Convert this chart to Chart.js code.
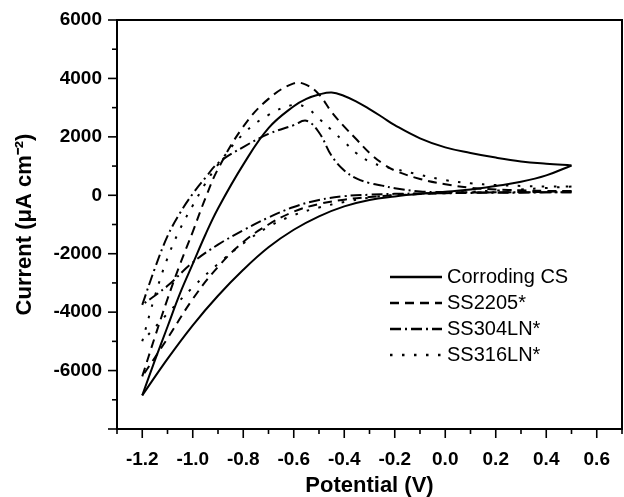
<!DOCTYPE html>
<html>
<head>
<meta charset="utf-8">
<title>Cyclic voltammetry</title>
<script src="https://cdn.jsdelivr.net/npm/chart.js"></script>
<style>
html,body{margin:0;padding:0;background:#fff}
#wrap{width:624px;height:497px;position:relative}
</style>
</head>
<body>
<div id="wrap"><canvas id="cvChart"></canvas></div>
<script>
// potential grids (V): anodic sweep then cathodic sweep
const fwdV=[-1.2,-1.15,-1.1,-1.05,-1.0,-0.95,-0.9,-0.8,-0.7,-0.6,-0.55,-0.5,-0.45,-0.4,-0.35,-0.3,-0.25,-0.2,-0.1,0,0.1,0.2,0.3,0.4,0.5];
const revV=[0.5,0.4,0.3,0.2,0.1,0,-0.1,-0.2,-0.3,-0.4,-0.5,-0.6,-0.7,-0.8,-0.9,-1.0,-1.1,-1.2];

// current density (uA cm-2)
const csFwd=[-6850,-5650,-4500,-3350,-2350,-1350,-450,1050,2300,3050,3300,3450,3520,3400,3200,2950,2680,2400,1950,1640,1450,1290,1160,1080,1020];
const csRev=[1020,680,460,320,200,120,50,-40,-160,-380,-720,-1180,-1780,-2550,-3440,-4450,-5600,-6850];
const ss2205Fwd=[-6200,-4850,-3550,-2350,-1250,-100,900,2350,3300,3830,3780,3450,2850,2350,1900,1450,1100,850,560,380,260,200,170,150,150];
const ss2205Rev=[150,120,110,100,90,70,40,0,-60,-150,-300,-560,-1000,-1600,-2450,-3550,-4900,-6200];
const ss304Fwd=[-3750,-2500,-1400,-600,50,600,1100,1650,2100,2400,2550,2150,1350,850,570,420,330,240,130,110,100,100,100,100,100];
const ss304Rev=[100,100,90,90,80,70,60,50,20,-30,-160,-400,-760,-1200,-1690,-2300,-3100,-3750];
const ss316Fwd=[-5000,-3450,-2150,-1150,-350,400,1050,2100,2750,3100,3000,2620,2230,1830,1430,1150,1000,900,700,520,410,350,320,300,300];
const ss316Rev=[300,250,200,160,120,90,60,10,-80,-230,-420,-680,-1080,-1650,-2350,-3150,-4050,-5000];

const seriesNames=['Corroding CS','SS2205*','SS304LN*','SS316LN*'];
const dashes=[[],[9,6],[11,4,2,4],[2.5,9.5]];

const pairs=(xs,ys)=>xs.map((x,i)=>({x:x,y:ys[i]}));
const branches=[[csFwd,csRev],[ss2205Fwd,ss2205Rev],[ss304Fwd,ss304Rev],[ss316Fwd,ss316Rev]];
const datasets=[];
branches.forEach((b,i)=>{
    [pairs(fwdV,b[0]),pairs(revV,b[1])].forEach(d=>{
        datasets.push({label:seriesNames[i],data:d,showLine:true,borderColor:'#000',
            borderWidth:2,borderDash:dashes[i],pointRadius:0,tension:0.4,fill:false});
    });
});

// frame, tick marks and in-plot legend
const framePlugin={
    id:'frame',
    afterDraw(chart){
        const c=chart.ctx, a=chart.chartArea;
        c.save();
        c.strokeStyle='#000';
        c.lineWidth=2;
        c.setLineDash([]);
        c.strokeRect(a.left,a.top,a.right-a.left,a.bottom-a.top);
        c.lineWidth=1.6;
        chart.scales.x.ticks.forEach(t=>{
            const px=chart.scales.x.getPixelForValue(t.value);
            const major=Math.round(t.value*10)%2===0;
            c.beginPath();c.moveTo(px,a.bottom);c.lineTo(px,a.bottom+(major?9:5));c.stroke();
        });
        chart.scales.y.ticks.forEach(t=>{
            const py=chart.scales.y.getPixelForValue(t.value);
            const major=Math.round(t.value)%2000===0;
            c.beginPath();c.moveTo(a.left,py);c.lineTo(a.left-(major?9:5),py);c.stroke();
        });
        // legend
        c.font='20px "Liberation Sans", Arial, sans-serif';
        c.fillStyle='#000';
        c.textBaseline='middle';
        seriesNames.forEach((n,i)=>{
            const y=a.top+257+i*26;
            c.lineWidth=2.5;
            c.setLineDash(dashes[i]);
            c.beginPath();c.moveTo(a.left+273,y);c.lineTo(a.left+325,y);c.stroke();
            c.setLineDash([]);
            c.fillText(n,a.left+330,y);
        });
        c.restore();
    }
};

const ctx=document.getElementById('cvChart').getContext('2d');
const tickFont={family:'"Liberation Sans", Arial, sans-serif',size:19,weight:'bold'};
const titleFont={family:'"Liberation Sans", Arial, sans-serif',size:22,weight:'bold'};
new Chart(ctx,{
    type:'scatter',
    data:{datasets:datasets},
    options:{
        responsive:true,
        maintainAspectRatio:false,
        animation:false,
        layout:{padding:{top:20,right:2,left:0,bottom:0}},
        plugins:{legend:{display:false},tooltip:{enabled:false}},
        scales:{
            x:{
                type:'linear',min:-1.3,max:0.7,
                grid:{display:false,drawTicks:false},
                border:{display:false},
                ticks:{stepSize:0.1,color:'#000',font:tickFont,padding:19,maxRotation:0,autoSkip:false,
                    callback:v=>{const r=Math.round(v*10);return r%2===0?(r/10).toFixed(1):'';}},
                title:{display:true,text:'Potential (V)',color:'#000',font:titleFont,padding:{top:0,bottom:-2}},
                afterFit:s=>{s.height=68;s.paddingLeft=0;s.paddingRight=0;}
            },
            y:{
                type:'linear',min:-8000,max:6000,
                grid:{display:false,drawTicks:false},
                border:{display:false},
                ticks:{stepSize:1000,color:'#000',font:tickFont,padding:15,autoSkip:false,
                    callback:v=>(v%2000===0&&v>-8000)?String(v):''},
                title:{display:true,text:'Current (\u03bcA cm\u207b\u00b2)',color:'#000',font:titleFont,padding:{top:12,bottom:0}},
                afterFit:s=>{s.width=117;s.paddingTop=0;s.paddingBottom=0;}
            }
        }
    },
    plugins:[framePlugin]
});
</script>
</body>
</html>
